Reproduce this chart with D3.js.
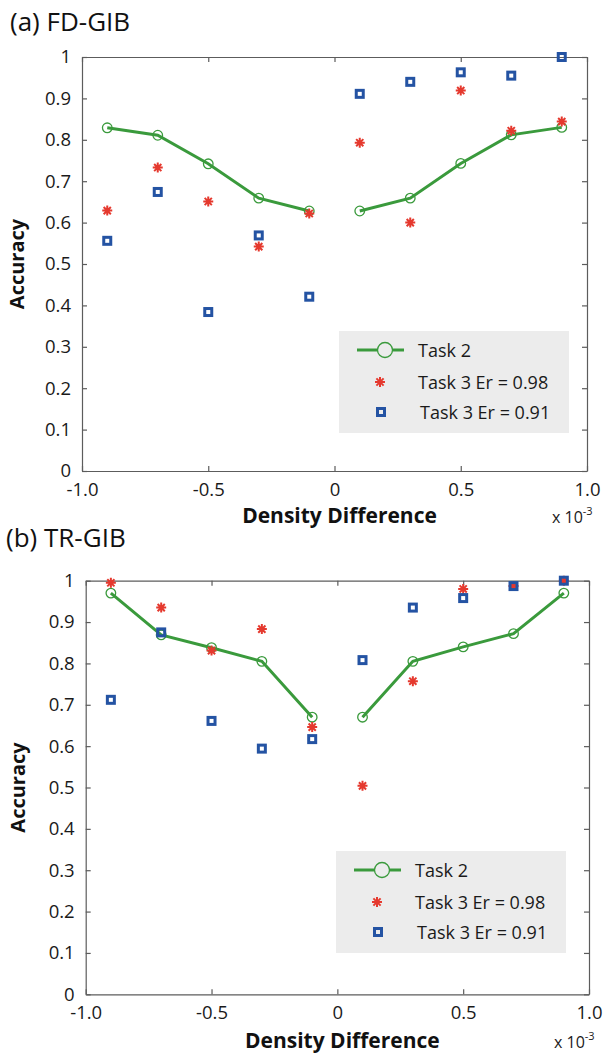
<!DOCTYPE html>
<html>
<head>
<meta charset="utf-8">
<script src="https://cdn.jsdelivr.net/npm/d3@7"></script>
<style>
  body { margin: 0; background: #fff; }
  svg { display: block; font-family: "Open Sans", "Noto Sans", sans-serif; }
</style>
</head>
<body>
<svg id="chart" width="605" height="1057"></svg>
<script>
// density difference (x 10^-3)
var densityDiff = [-0.9, -0.7, -0.5, -0.3, -0.1, 0.1, 0.3, 0.5, 0.7, 0.9];

// (a) FD-GIB
var fdTask2 = [0.829, 0.811, 0.742, 0.659, 0.628, 0.628, 0.659, 0.743, 0.812, 0.830];
var fdTask3Er98 = [0.629, 0.733, 0.651, 0.542, 0.622, 0.793, 0.600, 0.919, 0.822, 0.844];
var fdTask3Er91 = [0.556, 0.674, 0.384, 0.569, 0.421, 0.911, 0.940, 0.963, 0.955, 1.0];

// (b) TR-GIB
var trTask2 = [0.970, 0.869, 0.838, 0.805, 0.670, 0.670, 0.805, 0.840, 0.872, 0.970];
var trTask3Er98 = [0.995, 0.935, 0.831, 0.883, 0.646, 0.504, 0.757, 0.980, 0.987, 1.0];
var trTask3Er91 = [0.712, 0.875, 0.661, 0.594, 0.617, 0.808, 0.935, 0.958, 0.987, 1.0];

var xTicks = [-1, -0.5, 0, 0.5, 1];
var xTickLabels = ["-1.0", "-0.5", "0", "0.5", "1.0"];
var yTicks = [0, 0.1, 0.2, 0.3, 0.4, 0.5, 0.6, 0.7, 0.8, 0.9, 1];
var yTickLabels = ["0", "0.1", "0.2", "0.3", "0.4", "0.5", "0.6", "0.7", "0.8", "0.9", "1"];
var legendLabels = ["Task 2", "Task 3 Er = 0.98", "Task 3 Er = 0.91"];

var GREEN = "#3a9a3c", RED = "#e5392e", BLUE = "#2453a3", AXIS = "#5c5c5c";

var svg = d3.select("#chart");

function starPath(r) {
    var d = r * 0.72;
    return "M0," + (-r) + "V" + r + "M" + (-r) + ",0H" + r +
        "M" + (-d) + "," + (-d) + "L" + d + "," + d +
        "M" + (-d) + "," + d + "L" + d + "," + (-d);
}

function drawPanel(p) {
    var x = d3.scaleLinear().domain([-1, 1]).range([p.left, p.right]);
    var y = d3.scaleLinear().domain([0, 1]).range([p.bottom, p.top]);
    var g = svg.append("g");

    // title
    g.append("text")
        .attr("x", p.titleX).attr("y", p.titleY)
        .attr("font-size", 26).attr("fill", "#111")
        .text(p.title);

    // axes on four sides, ticks pointing in
    var axB = g.append("g").attr("transform", "translate(0," + p.bottom + ")")
        .call(d3.axisBottom(x).tickValues(xTicks).tickSizeInner(-5).tickSizeOuter(0).tickPadding(14)
            .tickFormat(function (d, i) { return xTickLabels[i]; }));
    var axT = g.append("g").attr("transform", "translate(0," + p.top + ")")
        .call(d3.axisTop(x).tickValues(xTicks).tickSizeInner(-5).tickSizeOuter(0).tickFormat(""));
    var axL = g.append("g").attr("transform", "translate(" + p.left + ",0)")
        .call(d3.axisLeft(y).tickValues(yTicks).tickSizeInner(-5).tickSizeOuter(0).tickPadding(11)
            .tickFormat(function (d, i) { return yTickLabels[i]; }));
    var axR = g.append("g").attr("transform", "translate(" + p.right + ",0)")
        .call(d3.axisRight(y).tickValues(yTicks).tickSizeInner(-5).tickSizeOuter(0).tickFormat(""));

    [axB, axT, axL, axR].forEach(function (a) {
        a.select(".domain").attr("stroke", AXIS).attr("stroke-width", 1.2);
        a.selectAll(".tick line").attr("stroke", AXIS).attr("stroke-width", 1.2);
        a.selectAll(".tick text").attr("fill", "#1a1a1a").attr("font-size", 18.5)
            .attr("font-family", "'Open Sans', sans-serif");
    });
    axB.selectAll(".tick text").attr("dy", "0.6em");

    // axis labels
    g.append("text")
        .attr("transform", "translate(" + p.yLabelX + "," + ((p.top + p.bottom) / 2) + ") rotate(-90)")
        .attr("text-anchor", "middle")
        .attr("font-size", 20).attr("font-weight", "bold").attr("fill", "#111")
        .text("Accuracy");
    g.append("text")
        .attr("x", (p.left + p.right) / 2 + 5).attr("y", p.xLabelY)
        .attr("text-anchor", "middle")
        .attr("font-size", 21).attr("font-weight", "bold").attr("fill", "#111")
        .text("Density Difference");
    var mult = g.append("text")
        .attr("x", p.right - 35).attr("y", p.xLabelY)
        .attr("font-size", 16).attr("fill", "#1a1a1a");
    mult.append("tspan").text("x 10");
    mult.append("tspan").attr("dy", -8).attr("font-size", 11).text("-3");

    // task 2 line + circles
    var pts = densityDiff.map(function (d, i) { return [d, p.task2[i]]; });
    var left = pts.filter(function (d) { return d[0] < 0; });
    var right = pts.filter(function (d) { return d[0] > 0; });
    var line = d3.line().x(function (d) { return x(d[0]); }).y(function (d) { return y(d[1]); });
    [left, right].forEach(function (seg) {
        g.append("path").datum(seg)
            .attr("fill", "none").attr("stroke", GREEN).attr("stroke-width", 3)
            .attr("d", line);
    });
    g.selectAll(null).data(pts).enter().append("circle")
        .attr("cx", function (d) { return x(d[0]); })
        .attr("cy", function (d) { return y(d[1]); })
        .attr("r", 4.8)
        .attr("fill", "none").attr("stroke", GREEN).attr("stroke-width", 1.3);

    // task 3 Er = 0.98 stars
    g.selectAll(null).data(p.er98).enter().append("path")
        .attr("transform", function (d, i) { return "translate(" + x(densityDiff[i]) + "," + y(d) + ")"; })
        .attr("d", starPath(5))
        .attr("fill", "none").attr("stroke", RED).attr("stroke-width", 2);

    // task 3 Er = 0.91 squares
    g.selectAll(null).data(p.er91).enter().append("rect")
        .attr("x", function (d, i) { return x(densityDiff[i]) - 3.5; })
        .attr("y", function (d) { return y(d) - 3.5; })
        .attr("width", 7).attr("height", 7)
        .attr("fill", "none").attr("stroke", BLUE).attr("stroke-width", 3);

    // legend
    var lg = g.append("g").attr("transform", "translate(" + p.legendX + "," + p.legendY + ")");
    lg.append("rect").attr("width", 230).attr("height", 102).attr("fill", "#ececec");
    var rowY = [19, 51, 81];
    lg.append("line").attr("x1", 18).attr("x2", 65).attr("y1", rowY[0]).attr("y2", rowY[0])
        .attr("stroke", GREEN).attr("stroke-width", 3);
    lg.append("circle").attr("cx", 46).attr("cy", rowY[0]).attr("r", 7.5)
        .attr("fill", "#ececec").attr("stroke", GREEN).attr("stroke-width", 1.3);
    lg.append("path").attr("transform", "translate(41," + rowY[1] + ")")
        .attr("d", starPath(5)).attr("fill", "none").attr("stroke", RED).attr("stroke-width", 2);
    lg.append("rect").attr("x", 38.5).attr("y", rowY[2] - 3.5).attr("width", 7).attr("height", 7)
        .attr("fill", "none").attr("stroke", BLUE).attr("stroke-width", 3);
    lg.selectAll("text.lab").data(legendLabels).enter().append("text")
        .attr("class", "lab")
        .attr("x", function (d, i) { return i == 2 ? 81 : 79; })
        .attr("y", function (d, i) { return rowY[i] + 7; })
        .attr("font-size", 18).attr("fill", "#1a1a1a")
        .text(function (d) { return d; });
}

drawPanel({
    title: "(a) FD-GIB", titleX: 10, titleY: 31,
    left: 82, right: 587, top: 57, bottom: 471,
    yLabelX: 24, xLabelY: 523,
    legendX: 339, legendY: 331,
    task2: fdTask2, er98: fdTask3Er98, er91: fdTask3Er91
});

drawPanel({
    title: "(b) TR-GIB", titleX: 6, titleY: 547,
    left: 85.7, right: 589, top: 580.7, bottom: 994.3,
    yLabelX: 25, xLabelY: 1048,
    legendX: 336, legendY: 851,
    task2: trTask2, er98: trTask3Er98, er91: trTask3Er91
});
</script>
</body>
</html>
